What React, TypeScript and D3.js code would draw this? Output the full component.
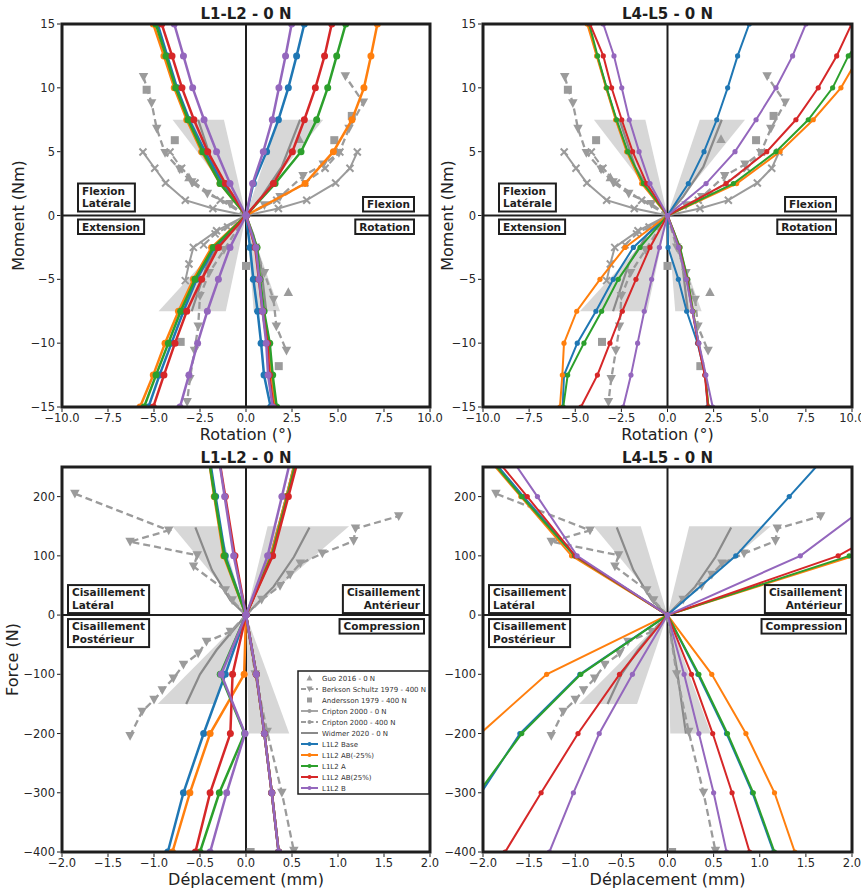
import React from 'react';
import * as d3 from 'd3';

type Pt = [number, number];

// ---------- ticks & load levels ----------
const rotTicks = [-10, -7.5, -5, -2.5, 0, 2.5, 5, 7.5, 10];
const momentTicks = [-15, -10, -5, 0, 5, 10, 15];
const dispTicks = [-2, -1.5, -1, -0.5, 0, 0.5, 1, 1.5, 2];
const forceTicks = [-400, -300, -200, -100, 0, 100, 200];

const momentUp = [0, 2.5, 5, 7.5, 10, 12.5, 15];
const momentDown = [0, -2.5, -5, -7.5, -10, -12.5, -15];
const forceUp = [0, 100, 200, 300];
const forceDown = [0, -100, -200, -300, -400];

const modelNames = ['L1L2 Base', 'L1L2 AB(-25%)', 'L1L2 A', 'L1L2 AB(25%)', 'L1L2 B'];
const modelColors = ['#1f77b4', '#ff7f0e', '#2ca02c', '#d62728', '#9467bd'];

// ---------- L1-L2 moment/rotation, quadrants [UL, UR, LL, LR] ----------
const l12MomBase = [
  [0, -1.29, -2.23, -3.08, -3.75, -4.28, -4.8],
  [0, 0.4, 1.12, 1.76, 2.3, 2.75, 3.17],
  [0, -1.7, -2.68, -3.4, -4.05, -4.7, -5.3],
  [0, 0.22, 0.4, 0.63, 0.82, 0.98, 1.34],
];
const l12MomAB25m = [
  [0, -1.41, -2.41, -3.22, -3.9, -4.46, -5.04],
  [0, 3.21, 4.75, 5.76, 6.41, 6.79, 7.14],
  [0, -1.87, -2.86, -3.67, -4.4, -5.04, -5.76],
  [0, 0.58, 0.74, 0.95, 1.25, 1.4, 1.6],
];
const l12MomA = [
  [0, -1.41, -2.35, -3.15, -3.82, -4.35, -4.9],
  [0, 1.58, 2.99, 3.84, 4.44, 4.93, 5.42],
  [0, -1.78, -2.77, -3.55, -4.22, -4.89, -5.54],
  [0, 0.6, 0.76, 0.98, 1.29, 1.45, 1.67],
];
const l12MomAB25 = [
  [0, -1.12, -2.08, -2.83, -3.48, -4.02, -4.58],
  [0, 1.49, 2.52, 3.17, 3.77, 4.27, 4.66],
  [0, -1.5, -2.41, -3.22, -3.86, -4.46, -5.04],
  [0, 0.5, 0.7, 0.9, 1.16, 1.27, 1.49],
];
const l12MomB = [
  [0, -0.87, -1.6, -2.28, -2.9, -3.4, -3.9],
  [0, 0.36, 0.94, 1.43, 1.79, 2.15, 2.48],
  [0, -0.87, -1.5, -2.1, -2.63, -3.1, -3.59],
  [0, 0.54, 0.72, 0.9, 1.1, 1.2, 1.45],
];

// ---------- L4-L5 moment/rotation ----------
const l45MomBase = [
  [0, -1.35, -2.18, -2.78, -3.31, -3.81, -4.3],
  [0, 1.13, 1.98, 2.67, 3.26, 3.8, 4.43],
  [0, -1.85, -2.94, -3.88, -4.89, -5.61, -5.68],
  [0, 0.03, 0.59, 1.04, 1.63, 2.05, 2.18],
];
const l45MomAB25m = [
  [0, -1.4, -2.21, -2.81, -3.33, -3.84, -4.35],
  [0, 3.75, 6.1, 7.9, 9.4, 10.4, 11.5],
  [0, -2.3, -3.66, -4.92, -5.61, -5.7, -5.83],
  [0, 0.66, 1.08, 1.38, 1.68, 2.05, 2.22],
];
const l45MomA = [
  [0, -1.31, -2.16, -2.76, -3.3, -3.79, -4.24],
  [0, 3.57, 5.88, 7.63, 8.95, 9.8, 11.1],
  [0, -1.49, -2.67, -3.57, -4.53, -5.41, -5.65],
  [0, 0.68, 1.1, 1.38, 1.68, 2.04, 2.22],
];
const l45MomAB25 = [
  [0, -1.13, -1.89, -2.48, -3.03, -3.48, -4.2],
  [0, 3.17, 5.38, 6.96, 8.17, 9.17, 9.98],
  [0, -0.95, -1.71, -2.45, -3.12, -3.8, -4.69],
  [0, 0.62, 1.05, 1.35, 1.65, 2.02, 2.2],
];
const l45MomB = [
  [0, -0.95, -1.54, -2.07, -2.48, -2.9, -3.48],
  [0, 2.09, 3.66, 4.8, 5.88, 6.78, 7.5],
  [0, -0.44, -0.86, -1.26, -1.62, -1.98, -2.4],
  [0, 0.6, 1.02, 1.35, 1.7, 2.08, 2.45],
];

// ---------- L1-L2 force/displacement ----------
const l12ForBase = [
  [0, -0.225, -0.33, -0.43],
  [0, 0.27, 0.44, 0.6],
  [0, -0.225, -0.46, -0.68, -0.85],
  [0, 0.112, 0.2, 0.28, 0.355],
];
const l12ForAB25m = [
  [0, -0.243, -0.345, -0.44],
  [0, 0.27, 0.44, 0.6],
  [0, -0.02, -0.39, -0.61, -0.8],
  [0, 0.11, 0.2, 0.28, 0.355],
];
const l12ForA = [
  [0, -0.235, -0.34, -0.44],
  [0, 0.28, 0.45, 0.61],
  [0, -0.28, -0.015, -0.29, -0.5],
  [0, 0.112, 0.2, 0.28, 0.355],
];
const l12ForAB25 = [
  [0, -0.12, -0.225, -0.33],
  [0, 0.29, 0.46, 0.63],
  [0, -0.146, -0.17, -0.39, -0.55],
  [0, 0.112, 0.2, 0.28, 0.355],
];
const l12ForB = [
  [0, -0.134, -0.232, -0.33],
  [0, 0.235, 0.39, 0.54],
  [0, -0.27, -0.01, -0.21, -0.39],
  [0, 0.112, 0.2, 0.28, 0.355],
];

// ---------- L4-L5 force/displacement ----------
const l45ForBase = [
  [0, -1.0, -1.56, -2.1],
  [0, 0.74, 1.32, 1.9],
  [0, -0.95, -1.6, -2.02, -2.6],
  [0, 0.33, 0.64, 0.92, 1.15],
];
const l45ForAB25m = [
  [0, -1.04, -1.59, -2.14],
  [0, 2.02, 4.0, 5.0],
  [0, -1.31, -2.03, -2.8, -3.5],
  [0, 0.48, 0.85, 1.16, 1.38],
];
const l45ForA = [
  [0, -1.01, -1.58, -2.12],
  [0, 1.97, 3.8, 5.0],
  [0, -0.94, -1.58, -2.05, -2.6],
  [0, 0.34, 0.65, 0.93, 1.16],
];
const l45ForAB25 = [
  [0, -1.0, -1.52, -2.05],
  [0, 1.85, 3.0, 4.5],
  [0, -0.52, -0.97, -1.37, -1.76],
  [0, 0.26, 0.49, 0.7, 0.89],
];
const l45ForB = [
  [0, -0.98, -1.41, -1.85],
  [0, 1.44, 2.3, 3.2],
  [0, -0.38, -0.74, -1.02, -1.28],
  [0, 0.18, 0.34, 0.5, 0.64],
];

// ---------- literature data, moment plots ----------
const guoTop: Pt[] = [[-3.1, 3.0], [2.9, 6.0], [2.3, -6.0]];
const berksonTopUL: Pt[] = [[0, 0], [-0.87, 0.9], [-2.1, 1.7], [-2.95, 2.6], [-3.6, 3.6], [-4.4, 4.9], [-4.85, 6.8], [-5.13, 8.8], [-5.57, 10.85]];
const berksonTopUR: Pt[] = [[0, 0], [1.0, 0.8], [1.85, 1.45], [3.1, 3.1], [4.2, 4.0], [5.05, 4.9], [5.6, 6.8], [6.38, 8.85], [5.4, 10.9]];
const berksonTopLL: Pt[] = [[0, 0], [-1.2, -2.7], [-2.0, -4.5], [-2.5, -6.3], [-2.6, -8.7], [-2.8, -10.6], [-3.05, -12.8], [-3.2, -14.6]];
const berksonTopLR: Pt[] = [[0, 0], [0.5, -2.5], [1.0, -4.5], [1.5, -6.6], [1.65, -8.7], [2.2, -10.6]];
const anderssonTop: Pt[] = [[-5.4, 9.85], [-3.87, 5.9], [5.75, 7.8], [4.8, 5.9], [-3.55, -9.9], [0, -3.95], [1.78, -11.8]];
const criptonTop0UL: Pt[] = [[0, 0], [-1.8, 0.55], [-3.3, 1.2], [-4.37, 2.55], [-4.96, 3.7], [-5.6, 4.97]];
const criptonTop0UR: Pt[] = [[0, 0], [1.76, 0.55], [3.3, 1.2], [4.87, 2.55], [5.65, 3.7], [6.05, 4.97]];
const criptonTop0LL: Pt[] = [[0, 0], [-1.6, -1.2], [-2.86, -2.5], [-3.1, -3.8], [-3.3, -5.1]];
const criptonTop400UL: Pt[] = [[0, 0], [-1.4, 1.2], [-2.77, 2.55], [-3.5, 3.7], [-4.13, 4.97]];
const criptonTop400UR: Pt[] = [[0, 0], [1.67, 1.2], [3.2, 2.55], [4.3, 3.7], [5.1, 4.97]];
const criptonTop400LL: Pt[] = [[0, 0], [-1.0, -0.9], [-1.68, -1.44], [-2.3, -2.3]];
const widmerTopUL: Pt[] = [[0, 0], [-0.8, 1.5], [-1.75, 3.8], [-2.6, 7.5]];
const widmerTopUR: Pt[] = [[0, 0], [0.86, 1.5], [1.94, 3.8], [2.94, 7.5]];
const widmerTopLL: Pt[] = [[0, 0], [-1.1, -1.5], [-2.1, -3.8], [-2.95, -7.5]];
const widmerTopLR: Pt[] = [[0, 0], [0.4, -1.5], [0.8, -3.8], [1.1, -7.5]];
const bandsTop = [[-3.99, -1.2, 7.5], [1.75, 4.2, 7.5], [-4.75, -1.1, -7.5], [0.42, 1.85, -7.5]];

// ---------- literature data, force plots ----------
const berksonBotUL: Pt[] = [[0, 0], [-0.15, 25], [-0.225, 42], [-0.57, 82], [-0.53, 101], [-1.26, 124], [-0.84, 143], [-1.86, 205]];
const berksonBotUR: Pt[] = [[0, 0], [0.17, 26], [0.37, 49], [0.48, 68], [0.59, 87], [0.83, 104], [1.17, 125], [1.19, 146], [1.66, 167]];
const berksonBotLL: Pt[] = [[0, 0], [-0.17, -28], [-0.43, -45], [-0.52, -65], [-0.68, -84], [-0.79, -107], [-0.91, -127], [-1.0, -143], [-1.13, -163], [-1.26, -204]];
const berksonBotLR: Pt[] = [[0, 0], [0.1, -100], [0.23, -197], [0.39, -300], [0.52, -398]];
const anderssonBot: Pt[] = [[0.05, -400]];
const widmerBotUL: Pt[] = [[0, 0], [-0.17, 25], [-0.37, 76], [-0.55, 148]];
const widmerBotUR: Pt[] = [[0, 0], [0.3, 48], [0.52, 98], [0.69, 148]];
const widmerBotLL: Pt[] = [[0, 0], [-0.32, -59], [-0.5, -100], [-0.65, -150]];
const widmerBotLR: Pt[] = [[0, 0], [0.1, -90], [0.2, -200]];
const bandsBot = [[-0.8, -0.29, 150], [0.235, 1.12, 150], [-0.96, -0.33, -150], [0.03, 0.47, -200]];

const legendLabels = ['Guo 2016 - 0 N', 'Berkson Schultz 1979 - 400 N', 'Andersson 1979 - 400 N', 'Cripton 2000 - 0 N', 'Cripton 2000 - 400 N', 'Widmer 2020 - 0 N'];

// ---------- styles ----------
const GREY = '#9b9b9b';
const WIDMER = '#8a8a8a';
const BAND = '#d7d7d7';
const INK = '#1e1e1e';
const FONT = 'DejaVu Sans, Verdana, sans-serif';

let measureCtx: any = null;
function textWidth(s: string, font: string) {
  try {
    if (!measureCtx) measureCtx = document.createElement('canvas').getContext('2d');
    measureCtx.font = font;
    return measureCtx.measureText(s).width;
  } catch (e) {
    return s.length * 6.5;
  }
}

const fmt1 = (v: number) => (v < 0 ? '\u2212' : '') + Math.abs(v).toFixed(1);
const fmt0 = (v: number) => (v < 0 ? '\u2212' : '') + String(Math.abs(v));

function Mark({ kind, x, y, s, color }: any) {
  if (kind === 'v') return <path d={`M${x - s / 2},${y - s * 0.42}L${x + s / 2},${y - s * 0.42}L${x},${y + s * 0.5}Z`} fill={color} />;
  if (kind === '^') return <path d={`M${x - s / 2},${y + s * 0.42}L${x + s / 2},${y + s * 0.42}L${x},${y - s * 0.5}Z`} fill={color} />;
  if (kind === 's') return <rect x={x - s / 2} y={y - s / 2} width={s} height={s} fill={color} />;
  if (kind === 'x') return <path d={`M${x - s / 2},${y - s / 2}L${x + s / 2},${y + s / 2}M${x - s / 2},${y + s / 2}L${x + s / 2},${y - s / 2}`} stroke={color} strokeWidth={2} />;
  return <circle cx={x} cy={y} r={s} fill={color} />;
}

function buildTopGreys() {
  const out: any[] = [];
  [widmerTopUL, widmerTopUR, widmerTopLL, widmerTopLR].forEach((p) => out.push({ pts: p, dash: false, line: true, marker: null, color: WIDMER, width: 2.2, ms: 0 }));
  [berksonTopUL, berksonTopUR, berksonTopLL, berksonTopLR].forEach((p) => out.push({ pts: p, dash: true, line: true, marker: 'v', color: GREY, width: 2.3, ms: 9.5 }));
  [criptonTop0UL, criptonTop0UR, criptonTop0LL].forEach((p) => out.push({ pts: p, dash: false, line: true, marker: 'x', color: GREY, width: 2, ms: 7 }));
  [criptonTop400UL, criptonTop400UR, criptonTop400LL].forEach((p) => out.push({ pts: p, dash: true, line: true, marker: 'x', color: GREY, width: 2, ms: 7 }));
  out.push({ pts: anderssonTop, dash: false, line: false, marker: 's', color: GREY, width: 0, ms: 8 });
  out.push({ pts: guoTop, dash: false, line: false, marker: '^', color: GREY, width: 0, ms: 9.5 });
  return out;
}
function buildBotGreys() {
  const out: any[] = [];
  [widmerBotUL, widmerBotUR, widmerBotLL, widmerBotLR].forEach((p) => out.push({ pts: p, dash: false, line: true, marker: null, color: WIDMER, width: 2.2, ms: 0 }));
  [berksonBotUL, berksonBotUR, berksonBotLL, berksonBotLR].forEach((p) => out.push({ pts: p, dash: true, line: true, marker: 'v', color: GREY, width: 2.3, ms: 9.5 }));
  out.push({ pts: anderssonBot, dash: false, line: false, marker: 's', color: GREY, width: 0, ms: 8 });
  return out;
}

function Box({ lines, x, y, align }: any) {
  const font = `bold 10.5px ${FONT}`;
  const w = Math.max(...lines.map((l: string) => textWidth(l, font))) + 8;
  const h = lines.length === 1 ? 14.5 : 28;
  const left = align === 'left' ? x : x - w;
  const top = y;
  return (
    <g>
      <rect x={left} y={top} width={w} height={h} fill="#fff" stroke={INK} strokeWidth={2} />
      {lines.map((l: string, i: number) => (
        <text key={i} x={align === 'left' ? left + 4 : left + w - 4} y={top + 11 + i * 12.6} textAnchor={align === 'left' ? 'start' : 'end'}
          fontSize={10.5} fontWeight="bold" fill={INK}>{l}</text>
      ))}
    </g>
  );
}

function Panel(p: any) {
  const xs = d3.scaleLinear().domain(p.xDom).range([p.x0, p.x1]);
  const ys = d3.scaleLinear().domain(p.yDom).range([p.y1, p.y0]);
  const line = d3.line<Pt>().x((d) => xs(d[0])).y((d) => ys(d[1]));
  const clipId = `clip-${p.id}`;
  const zy = ys(0);
  const zx = xs(0);
  const boxH = (n: number) => (n === 1 ? 14.5 : 28);
  return (
    <g>
      <defs>
        <clipPath id={clipId}>
          <rect x={p.x0} y={p.y0} width={p.x1 - p.x0} height={p.y1 - p.y0} />
        </clipPath>
      </defs>
      <g clipPath={`url(#${clipId})`}>
        {p.bands.map((b: number[], i: number) => (
          <path key={i} d={line([[0, 0], [b[0], b[2]], [b[1], b[2]], [0, 0]]) || ''} fill={BAND} />
        ))}
        <line x1={zx} x2={zx} y1={p.y0} y2={p.y1} stroke={INK} strokeWidth={2} />
        <line x1={p.x0} x2={p.x1} y1={zy} y2={zy} stroke={INK} strokeWidth={2} />
        {p.greys.map((g: any, i: number) => (
          <g key={i}>
            {g.line && <path d={line(g.pts) || ''} fill="none" stroke={g.color} strokeWidth={g.width} strokeDasharray={g.dash ? '7,4' : undefined} />}
            {g.marker && g.pts.filter((q: Pt) => !(q[0] === 0 && q[1] === 0)).map((q: Pt, j: number) => (
              <Mark key={j} kind={g.marker} x={xs(q[0])} y={ys(q[1])} s={g.ms} color={g.color} />
            ))}
          </g>
        ))}
        {p.models.map((m: number[][], mi: number) => (
          <g key={mi}>
            {m.map((vals: number[], q: number) => {
              const lev = q < 2 ? p.up : p.down;
              const pts: Pt[] = vals.map((v, i) => [v, lev[i]]);
              return (
                <g key={q}>
                  <path d={line(pts) || ''} fill="none" stroke={modelColors[mi]} strokeWidth={p.lw} />
                  {pts.map((pt, i) => <circle key={i} cx={xs(pt[0])} cy={ys(pt[1])} r={p.r} fill={modelColors[mi]} />)}
                </g>
              );
            })}
          </g>
        ))}
      </g>
      {/* quadrant boxes */}
      <Box lines={p.boxes[0]} x={p.x0 + p.inset} y={zy - p.gapUp - boxH(p.boxes[0].length)} align="left" />
      <Box lines={p.boxes[1]} x={p.x1 - p.inset} y={zy - p.gapUp - boxH(p.boxes[1].length)} align="right" />
      <Box lines={p.boxes[2]} x={p.x0 + p.inset} y={zy + p.gapDown} align="left" />
      <Box lines={p.boxes[3]} x={p.x1 - p.inset} y={zy + p.gapDown} align="right" />
      {/* spines */}
      <rect x={p.x0} y={p.y0} width={p.x1 - p.x0} height={p.y1 - p.y0} fill="none" stroke={INK} strokeWidth={3} />
      {/* ticks */}
      {p.xTicks.map((t: number) => (
        <g key={`x${t}`}>
          <line x1={xs(t)} x2={xs(t)} y1={p.y1 + 1.5} y2={p.y1 + 5} stroke={INK} strokeWidth={1} />
          <text x={xs(t)} y={p.y1 + 15} textAnchor="middle" fontSize={11.5} fill="#262626">{fmt1(t)}</text>
        </g>
      ))}
      {p.yTicks.map((t: number) => (
        <g key={`y${t}`}>
          <line x1={p.x0 - 5} x2={p.x0 - 1.5} y1={ys(t)} y2={ys(t)} stroke={INK} strokeWidth={1} />
          <text x={p.x0 - 7} y={ys(t) + 4} textAnchor="end" fontSize={11.5} fill="#262626">{fmt0(t)}</text>
        </g>
      ))}
      <text x={(p.x0 + p.x1) / 2} y={p.titleY} textAnchor="middle" fontSize={15} fontWeight="bold" fill={INK}>{p.title}</text>
      <text x={(p.x0 + p.x1) / 2} y={p.xLabelY} textAnchor="middle" fontSize={16} fill="#222">{p.xLabel}</text>
      {p.yLabel && (
        <text transform={`translate(${p.yLabelX},${(p.y0 + p.y1) / 2}) rotate(-90)`} textAnchor="middle" fontSize={16} fill="#222">{p.yLabel}</text>
      )}
      {p.legend && <Legend />}
    </g>
  );
}

function Legend() {
  const x = 298, y = 671, w = 131, h = 123;
  const rows = [...legendLabels, ...modelNames];
  return (
    <g>
      <rect x={x} y={y} width={w} height={h} fill="#fff" stroke={INK} strokeWidth={1.5} />
      {rows.map((lab, i) => {
        const cy = 678 + i * 11;
        const hx0 = 301, hx1 = 318, mx = 309.5;
        let handle: any = null;
        if (i === 0) handle = <Mark kind="^" x={mx} y={cy} s={6} color={GREY} />;
        else if (i === 1) handle = (<g><line x1={hx0} x2={hx1} y1={cy} y2={cy} stroke={GREY} strokeWidth={1.8} strokeDasharray="5,2.5" /><Mark kind="v" x={mx} y={cy} s={6} color={GREY} /></g>);
        else if (i === 2) handle = <Mark kind="s" x={mx} y={cy} s={5} color={GREY} />;
        else if (i === 3) handle = (<g><line x1={hx0} x2={hx1} y1={cy} y2={cy} stroke={GREY} strokeWidth={1.8} /><Mark kind="o" x={mx} y={cy} s={2} color={GREY} /></g>);
        else if (i === 4) handle = (<g><line x1={hx0} x2={hx1} y1={cy} y2={cy} stroke={GREY} strokeWidth={1.8} strokeDasharray="5,2.5" /><Mark kind="o" x={mx} y={cy} s={2} color={GREY} /></g>);
        else if (i === 5) handle = <line x1={hx0} x2={hx1} y1={cy} y2={cy} stroke={WIDMER} strokeWidth={2} />;
        else {
          const c = modelColors[i - 6];
          handle = (<g><line x1={hx0} x2={hx1} y1={cy} y2={cy} stroke={c} strokeWidth={2} /><circle cx={mx} cy={cy} r={2} fill={c} /></g>);
        }
        return (
          <g key={i}>
            {handle}
            <text x={322} y={cy + 2.5} fontSize={7} fill="#333">{lab}</text>
          </g>
        );
      })}
    </g>
  );
}

export default function App() {
  const topGreys = buildTopGreys();
  const botGreys = buildBotGreys();
  const topBoxes = [['Flexion', 'Latérale'], ['Flexion'], ['Extension'], ['Rotation']];
  const botBoxes = [['Cisaillement', 'Latéral'], ['Cisaillement', 'Antérieur'], ['Cisaillement', 'Postérieur'], ['Compression']];
  const common = { up: null, down: null };
  const top = { xDom: [-10, 10], yDom: [-15, 15], y0: 24, y1: 407, xTicks: rotTicks, yTicks: momentTicks, titleY: 19, xLabel: 'Rotation (°)', xLabelY: 440, yLabel: 'Moment (Nm)', up: momentUp, down: momentDown, greys: topGreys, bands: bandsTop, boxes: topBoxes, inset: 16, gapUp: 4, gapDown: 4 };
  const bot = { xDom: [-2, 2], yDom: [-400, 250], y0: 467, y1: 852, xTicks: dispTicks, yTicks: forceTicks, titleY: 463, xLabel: 'Déplacement (mm)', xLabelY: 885, up: forceUp, down: forceDown, greys: botGreys, bands: bandsBot, boxes: botBoxes, inset: 6, gapUp: 2, gapDown: 4 };
  void common;
  return (
    <svg width={861} height={890} viewBox="0 0 861 890" fontFamily={FONT}
      style={{ position: 'absolute', left: 0, top: 0, background: '#fff', display: 'block' }}>
      <rect x={0} y={0} width={861} height={890} fill="#fff" />
      <Panel id="tl" {...top} x0={62} x1={430} title="L1-L2 - 0 N" yLabelX={24}
        models={[l12MomBase, l12MomAB25m, l12MomA, l12MomAB25, l12MomB]} lw={2.5} r={3.5} />
      <Panel id="tr" {...top} x0={483} x1={852} title="L4-L5 - 0 N" yLabelX={453}
        models={[l45MomBase, l45MomAB25m, l45MomA, l45MomAB25, l45MomB]} lw={2} r={2.6} />
      <Panel id="bl" {...bot} x0={62} x1={430} title="L1-L2 - 0 N" yLabel="Force (N)" yLabelX={18}
        models={[l12ForBase, l12ForAB25m, l12ForA, l12ForAB25, l12ForB]} lw={2.5} r={3.5} legend />
      <Panel id="br" {...bot} x0={483} x1={852} title="L4-L5 - 0 N" yLabel={null} yLabelX={453}
        models={[l45ForBase, l45ForAB25m, l45ForA, l45ForAB25, l45ForB]} lw={2} r={2.6} />
    </svg>
  );
}
